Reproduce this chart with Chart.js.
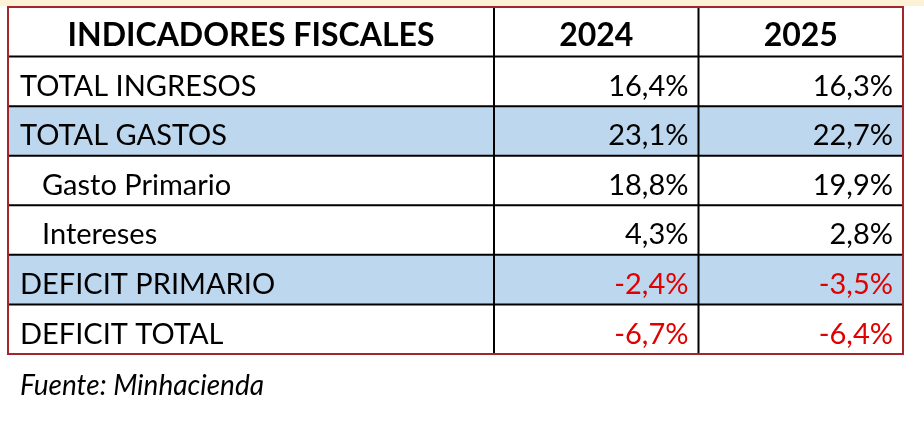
<!DOCTYPE html>
<html>
<head>
<meta charset="utf-8">
<script src="https://cdn.jsdelivr.net/npm/chart.js@4"></script>
<style>
  html, body { margin: 0; padding: 0; background: #fff; }
  #wrap { width: 924px; height: 436px; }
</style>
</head>
<body>
<div id="wrap"><canvas id="tbl" width="924" height="436"></canvas></div>
<script>
const title = 'INDICADORES FISCALES';
const years = ['2024', '2025'];
const rowLabels = ['TOTAL INGRESOS', 'TOTAL GASTOS', 'Gasto Primario', 'Intereses', 'DEFICIT PRIMARIO', 'DEFICIT TOTAL'];
const values2024 = [16.4, 23.1, 18.8, 4.3, -2.4, -6.7];
const values2025 = [16.3, 22.7, 19.9, 2.8, -3.5, -6.4];
const indented = [false, false, true, true, false, false];
const highlighted = [false, true, false, false, true, false];
const source = 'Fuente: Minhacienda';

const rows = ['header'].concat(rowLabels);
const fmt = v => v.toFixed(1).replace('.', ',') + '%';
const FONT = 'Lato, "Open Sans", sans-serif';

const tablePlugin = {
  id: 'tablePlugin',
  beforeDraw(chart) {
    const c = chart.ctx;
    c.save();
    c.fillStyle = '#fff';
    c.fillRect(0, 0, chart.width, chart.height);
    c.fillStyle = '#fdf2d6';
    c.fillRect(0, 0, chart.width, 6);
    c.restore();
  },
  afterDraw(chart) {
    const c = chart.ctx;
    const x = chart.scales.x, y = chart.scales.y;
    const area = chart.chartArea;
    const left = 8;
    const rowH = (area.bottom - area.top) / rows.length;
    const colW = (area.right - area.left) / years.length;
    c.save();

    rows.forEach((r, i) => {
      const yc = y.getPixelForValue(i);
      const top = yc - rowH / 2;
      if (i > 0 && highlighted[i - 1]) {
        c.fillStyle = '#bdd7ee';
        c.fillRect(left, top, area.right - left, rowH);
      }
    });

    // grid lines
    c.strokeStyle = '#000';
    c.lineWidth = 2;
    for (let i = 1; i < rows.length; i++) {
      const yy = y.getPixelForValue(i) - rowH / 2;
      c.beginPath(); c.moveTo(left, yy); c.lineTo(area.right, yy); c.stroke();
    }
    years.forEach((yr, j) => {
      const xx = x.getPixelForValue(j) - colW / 2;
      c.beginPath(); c.moveTo(xx, area.top); c.lineTo(xx, area.bottom); c.stroke();
    });
    c.strokeStyle = '#a3262c';
    c.strokeRect(left, area.top, area.right - left, area.bottom - area.top);

    // header
    c.textBaseline = 'middle';
    c.fillStyle = '#000';
    c.font = 'bold 32px ' + FONT;
    c.textAlign = 'center';
    const hy = y.getPixelForValue(0);
    c.fillText(title, (left + area.left) / 2, hy + 4);
    years.forEach((yr, j) => c.fillText(yr, x.getPixelForValue(j), hy + 4));

    // body
    c.font = '29px ' + FONT;
    rowLabels.forEach((lab, i) => {
      const yy = y.getPixelForValue(i + 1) + 5;
      c.textAlign = 'left';
      c.fillStyle = '#000';
      c.fillText(lab, indented[i] ? 42 : 20, yy);
      c.textAlign = 'right';
      [values2024[i], values2025[i]].forEach((v, j) => {
        c.fillStyle = v < 0 ? '#e00000' : '#000';
        c.fillText(fmt(v), x.getPixelForValue(j) + colW / 2 - 10, yy);
      });
    });

    c.font = 'italic 28px ' + FONT;
    c.textAlign = 'left';
    c.fillStyle = '#000';
    c.fillText(source, 20, 386);
    c.restore();
  }
};

new Chart(document.getElementById('tbl'), {
  type: 'bar',
  data: { labels: years, datasets: [{ data: [] }] },
  options: {
    responsive: false,
    animation: false,
    events: [],
    layout: { padding: { left: 494, right: 21, top: 7, bottom: 82 } },
    plugins: { legend: { display: false }, tooltip: { enabled: false } },
    scales: {
      x: { type: 'category', labels: years, display: false, offset: true },
      y: { type: 'category', labels: rows, display: false, offset: true }
    }
  },
  plugins: [tablePlugin]
});
</script>
</body>
</html>
